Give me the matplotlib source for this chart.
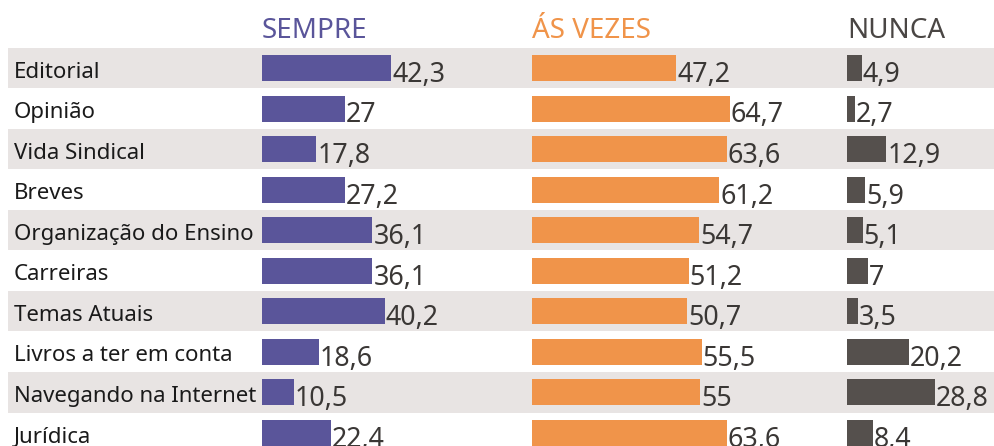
import matplotlib
matplotlib.use('agg')
import matplotlib.pyplot as plt

categories = ['Editorial', 'Opinião', 'Vida Sindical', 'Breves',
              'Organização do Ensino', 'Carreiras', 'Temas Atuais',
              'Livros a ter em conta', 'Navegando na Internet', 'Jurídica']
sempre = [42.3, 27, 17.8, 27.2, 36.1, 36.1, 40.2, 18.6, 10.5, 22.4]
as_vezes = [47.2, 64.7, 63.6, 61.2, 54.7, 51.2, 50.7, 55.5, 55, 63.6]
nunca = [4.9, 2.7, 12.9, 5.9, 5.1, 7, 3.5, 20.2, 28.8, 8.4]
headers = ['SEMPRE', 'ÁS VEZES', 'NUNCA']

colors = ['#5a559a', '#f0944a', '#55504d']
text_color = '#3a3735'
band_color = '#e8e4e3'

plt.rcParams['font.family'] = ['Noto Sans', 'DejaVu Sans']

W, H, DPI = 995, 446, 100
px = 3.06          # pixels per percent unit
row_px = 40.56     # row pitch in pixels
top_px = 68        # centre of first row in pixels

fig = plt.figure(figsize=(W / DPI, H / DPI), dpi=DPI)
ax = fig.add_axes([0, 0, 1, 1])
ax.set_xlim(0, W / px)
ax.set_ylim((H - top_px) / row_px, -top_px / row_px)
ax.axis('off')

# column offsets (in percent units)
offsets = [262 / px, 532 / px, 847 / px]
series = [sempre, as_vezes, nunca]

# alternating background bands
for i in range(len(categories)):
    if i % 2 == 0:
        ax.axhspan(i - 0.495, i + 0.495, xmin=8 / W, xmax=1,
                   color=band_color, lw=0, zorder=0)

ys = list(range(len(categories)))
for off, vals, col, head in zip(offsets, series, colors, headers):
    ax.barh(ys, vals, left=off, height=26 / row_px, color=col, zorder=2)
    for y, v in zip(ys, vals):
        lab = ('%g' % v).replace('.', ',')
        ax.text(off + v + 0.3, y + 0.17, lab, fontsize=19.3, color=text_color,
                va='center', ha='left', zorder=3)
    hc = col if col != '#55504d' else '#4a4644'
    ax.text(off, -0.74, head, fontsize=20, color=hc,
            va='baseline', ha='left')

for y, c in zip(ys, categories):
    ax.text(14 / px, y + 0.1, c, fontsize=16, color='#1a1a1a',
            va='center', ha='left', zorder=3)

fig.savefig('out.png', dpi=DPI)
